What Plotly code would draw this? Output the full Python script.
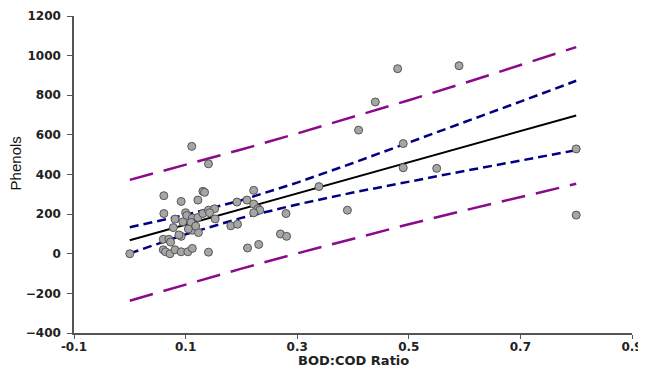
import plotly.graph_objects as go

# Scatter data (BOD:COD ratio vs Phenols)
bod_cod = [0.00, 0.061, 0.092, 0.122, 0.131, 0.134, 0.111, 0.141, 0.061, 0.081,
           0.100, 0.102, 0.112, 0.122, 0.131, 0.141, 0.152, 0.143, 0.153, 0.110,
           0.078, 0.095, 0.112, 0.123, 0.092, 0.060, 0.070, 0.073, 0.060, 0.064,
           0.072, 0.081, 0.092, 0.104, 0.112, 0.141, 0.192, 0.210, 0.222, 0.222,
           0.230, 0.233, 0.222, 0.181, 0.193, 0.280, 0.339, 0.270, 0.281, 0.211,
           0.231, 0.390, 0.410, 0.440, 0.480, 0.490, 0.490, 0.550, 0.590, 0.800,
           0.800, 0.088, 0.118, 0.105]
phenols = [0, 293, 264, 271, 315, 310, 542, 454, 203, 175,
           207, 193, 180, 183, 203, 220, 227, 207, 176, 158,
           132, 161, 119, 107, 88, 73, 73, 59, 20, 10,
           0, 20, 10, 10, 27, 8, 261, 271, 320, 251,
           227, 220, 207, 141, 149, 203, 339, 100, 88, 29,
           47, 220, 624, 766, 934, 556, 434, 431, 949, 529,
           195, 95, 140, 125]

# Fitted line and bands read at these x positions
band_x = [0.0, 0.1, 0.2, 0.3, 0.4, 0.5, 0.6, 0.7, 0.8]
fit_y = [68, 147, 226, 304, 383, 462, 541, 619, 698]
ci_upper = [134, 196, 270, 359, 458, 560, 663, 768, 873]
ci_lower = [2, 98, 181, 249, 309, 364, 418, 470, 523]
pi_upper = [373, 448, 526, 607, 690, 775, 862, 952, 1043]
pi_lower = [-237, -155, -75, 2, 76, 149, 219, 286, 353]

x_ticks = [-0.1, 0.1, 0.3, 0.5, 0.7, 0.9]
x_tick_labels = ["-0.1", "0.1", "0.3", "0.5", "0.7", "0.9"]
y_ticks = [-400, -200, 0, 200, 400, 600, 800, 1000, 1200]

purple = "#8B0A8B"
navy = "#000080"

fig = go.Figure()
for ys in (pi_upper, pi_lower):
    fig.add_trace(go.Scatter(x=band_x, y=ys, mode="lines",
                             line=dict(color=purple, width=2.5, dash="24px,11px"),
                             hoverinfo="skip"))
for ys in (ci_upper, ci_lower):
    fig.add_trace(go.Scatter(x=band_x, y=ys, mode="lines",
                             line=dict(color=navy, width=2.5, dash="9px,5px"),
                             hoverinfo="skip"))
fig.add_trace(go.Scatter(x=band_x, y=fit_y, mode="lines",
                         line=dict(color="black", width=2), hoverinfo="skip"))
fig.add_trace(go.Scatter(x=bod_cod, y=phenols, mode="markers",
                         marker=dict(size=8, color="#A6A6A6",
                                     line=dict(color="#555555", width=1))))

tick_font = dict(family="DejaVu Sans, sans-serif", size=12, color="#222222", weight="bold")

# The page body adds an 8px offset, so the figure is sized to fit the window.
fig.update_layout(
    width=638, height=359,
    margin=dict(l=66, r=14, t=8, b=34),
    paper_bgcolor="white", plot_bgcolor="white",
    showlegend=False,
    xaxis=dict(range=[-0.1, 0.9], tickvals=x_ticks, ticktext=x_tick_labels,
               showgrid=False, zeroline=False, showline=True, linecolor="#555555",
               linewidth=1.5, ticks="outside", ticklen=4, tickcolor="#555555",
               tickfont=tick_font, automargin=False, ticklabeloverflow="allow",
               ticklabelstandoff=-2),
    yaxis=dict(range=[-400, 1200], tickvals=y_ticks,
               showgrid=False, zeroline=False, showline=True, linecolor="#555555",
               linewidth=1.5, ticks="outside", ticklen=5, tickcolor="#555555",
               tickfont=tick_font, automargin=False, ticklabelstandoff=4),
    annotations=[
        dict(text="<b>BOD:COD Ratio</b>", xref="paper", yref="paper",
             x=0.5, y=0, yshift=-18, xanchor="center", yanchor="top",
             showarrow=False,
             font=dict(family="DejaVu Sans, sans-serif", size=13, color="#222222")),
        dict(text="Phenols", xref="paper", yref="paper",
             x=0, xshift=-59, y=0.535, xanchor="center", yanchor="middle",
             textangle=-90, showarrow=False,
             font=dict(family="Liberation Sans Narrow, Liberation Sans, Arial, sans-serif",
                       size=15, color="#111111")),
    ],
)

fig.write_html("out.html")
